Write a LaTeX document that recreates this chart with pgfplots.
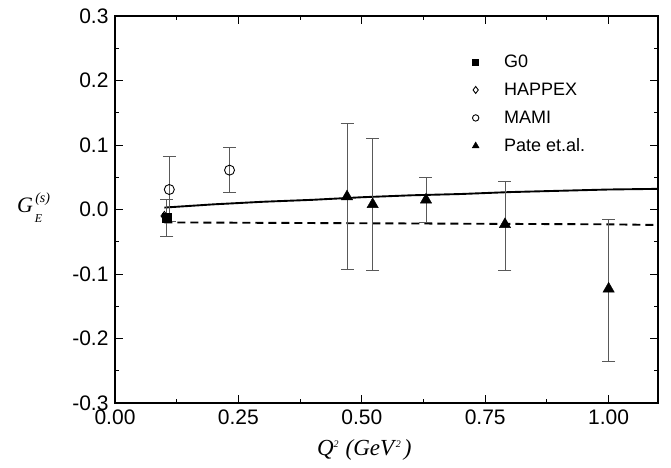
\documentclass[border=0pt]{standalone}
\usepackage{pgfplots}
\pgfplotsset{compat=1.18}
\usepackage{fontspec}
\setmainfont{Liberation Sans}
\newfontfamily\tnr{Liberation Serif}

\pgfplotstableread{
x      y       ep     em
0.105 -0.013   0.028  0.028
}\gzero
\pgfplotstableread{
x      y
0.100 -0.010
}\happex
\pgfplotstableread{
x      y       ep     em
0.110  0.031   0.051  0.050
0.232  0.061   0.035  0.035
}\mami
\pgfplotstableread{
x      y       ep     em
0.470  0.020   0.113  0.113
0.522  0.008   0.102  0.102
0.630  0.015   0.035  0.035
0.790 -0.023   0.067  0.072
1.000 -0.123   0.108  0.112
}\pate

\begin{document}
\begin{tikzpicture}
\begin{axis}[
  scale only axis,
  width=543bp, height=387bp,
  xmin=0, xmax=1.1, ymin=-0.3, ymax=0.3,
  xtick={0,0.25,0.5,0.75,1.0},
  minor xtick={0.125,0.375,0.625,0.875},
  ytick={-0.3,-0.2,...,0.3},
  minor ytick={-0.25,-0.15,...,0.25},
  tick align=inside,
  major tick length=8bp, minor tick length=4bp,
  every tick/.style={black, line width=1pt},
  axis line style={line width=1.3pt},
  /pgf/number format/assume math mode=true,
  xticklabel style={yshift=-3bp, /pgf/number format/.cd, fixed, fixed zerofill, precision=2},
  yticklabel style={xshift=-3bp, /pgf/number format/.cd, fixed, fixed zerofill, precision=1},
  tick label style={font=\fontsize{21bp}{23bp}\selectfont},
  xlabel={{\tnr\itshape Q\raisebox{8bp}{\fontsize{10bp}{10bp}\selectfont 2}\hspace{7bp}(GeV\raisebox{8bp}{\fontsize{10bp}{10bp}\selectfont\,2}\hspace{3bp})}},
  xlabel style={font=\fontsize{23bp}{25bp}\selectfont, at={(axis description cs:0.459,0)}, anchor=base, yshift=-52bp},
  ylabel={{\tnr\itshape G\rlap{\raisebox{-10bp}{\fontsize{12bp}{12bp}\selectfont\hspace{2bp}E}}\raisebox{10bp}{\fontsize{14bp}{14bp}\selectfont\,(s)}}},
  ylabel style={font=\fontsize{22bp}{24bp}\selectfont, rotate=-90, at={(axis description cs:-0.150,0.491)}, anchor=base},
  legend style={draw=none, fill=none, font=\fontsize{18bp}{20bp}\selectfont,
    at={(axis description cs:0.652,0.918)}, anchor=north west,
    row sep=4bp,
    nodes={text height=13bp, text depth=1bp, inner sep=5bp},
    /tikz/every odd column/.append style={column sep=20bp}},
  legend cell align=left,
  error bars/error bar style={gray!70!black, line width=0.8pt},
  error bars/error mark options={rotate=90, mark size=6.5bp, line width=0.8pt, gray!70!black},
]
\addplot[black, line width=1.9pt, forget plot] coordinates {
  (0.1,0.003) (0.2,0.008) (0.3,0.012) (0.4,0.015) (0.5,0.019) (0.6,0.022)
  (0.7,0.024) (0.8,0.027) (0.9,0.029) (1.0,0.031) (1.1,0.032)
};
\addplot[black, line width=1.9pt, dash pattern=on 8bp off 5bp, forget plot] coordinates {
  (0.1,-0.020) (0.4,-0.021) (0.7,-0.022) (1.0,-0.023) (1.1,-0.024)
};
\addplot[only marks, mark=square*, mark size=4.2bp, black,
  legend image post style={mark size=3bp},
  error bars/.cd, y dir=both, y explicit]
  table[x=x, y=y, y error plus=ep, y error minus=em] {\gzero};
\addlegendentry{G0}
\addplot[only marks, mark=diamond, mark size=4.5bp, black, mark options={fill=white, line width=0.9pt},
  legend image post style={mark size=3.5bp}]
  table[x=x, y=y] {\happex};
\addlegendentry{HAPPEX}
\addplot[only marks, mark=o, mark size=5bp, black, mark options={fill=white, line width=0.9pt},
  legend image post style={mark size=3.2bp},
  error bars/.cd, y dir=both, y explicit]
  table[x=x, y=y, y error plus=ep, y error minus=em] {\mami};
\addlegendentry{MAMI}
\addplot[only marks, mark=triangle*, mark size=6.5bp, black,
  legend image post style={mark size=4bp},
  error bars/.cd, y dir=both, y explicit]
  table[x=x, y=y, y error plus=ep, y error minus=em] {\pate};
\addlegendentry{Pate et.al.}
\end{axis}
\pgfresetboundingbox
\path (current axis.south west) ++(-115bp,-65bp) coordinate (bl);
\path (current axis.north east) ++(13bp,16bp) coordinate (tr);
\path (bl) rectangle (tr);
\end{tikzpicture}
\end{document}
